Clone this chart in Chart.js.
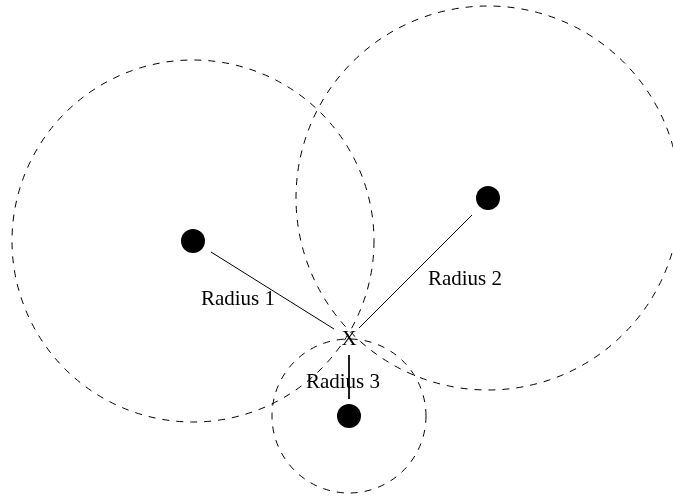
<!DOCTYPE html>
<html>
<head>
<meta charset="utf-8">
<script src="https://cdn.jsdelivr.net/npm/chart.js@4/dist/chart.umd.min.js"></script>
<style>
  html, body { margin: 0; padding: 0; background: #ffffff; }
  #wrap { width: 673px; height: 498px; }
</style>
</head>
<body>
<div id="wrap"><canvas id="c" width="673" height="498"></canvas></div>
<script>
// Station centres (diagram units, y grows downward)
const stationX = [193, 488, 349];
const stationY = [241, 198, 416];
// Circle radii (diagram units)
const circleRadius = [181, 192, 77];
// Estimated position "X"
const targetX = [349];
const targetY = [339];
// Radius line segments: start/end
const segStartX = [211, 472, 349];
const segStartY = [252, 215, 355];
const segEndX = [334, 359, 349];
const segEndY = [329, 328, 399];
// Labels
const radiusLabels = ['Radius 1', 'Radius 2', 'Radius 3'];
const labelX = [238, 465, 343];
const labelY = [299, 279, 382];
const targetLabel = 'X';

const segDatasets = segStartX.map((sx, i) => ({
  type: 'line',
  data: [{x: sx, y: segStartY[i]}, {x: segEndX[i], y: segEndY[i]}],
  borderColor: '#000',
  borderWidth: 1,
  pointRadius: 0,
  fill: false,
  clip: false
}));

const overlay = {
  id: 'overlay',
  beforeDatasetsDraw(chart) {
    const {ctx, scales: {x, y}} = chart;
    ctx.save();
    ctx.strokeStyle = '#000';
    ctx.lineWidth = 1;
    ctx.setLineDash([7, 7]);
    stationX.forEach((cx, i) => {
      const px = x.getPixelForValue(cx);
      const py = y.getPixelForValue(stationY[i]);
      const pr = Math.abs(x.getPixelForValue(cx + circleRadius[i]) - px);
      ctx.beginPath();
      ctx.arc(px, py, pr, 0, Math.PI * 2);
      ctx.stroke();
    });
    ctx.restore();
  },
  afterDatasetsDraw(chart) {
    const {ctx, scales: {x, y}} = chart;
    ctx.save();
    ctx.fillStyle = '#000';
    ctx.font = '21px "Liberation Serif", "Times New Roman", serif';
    ctx.textAlign = 'center';
    ctx.textBaseline = 'middle';
    radiusLabels.forEach((t, i) => {
      ctx.fillText(t, x.getPixelForValue(labelX[i]), y.getPixelForValue(labelY[i]));
    });
    ctx.fillText(targetLabel, x.getPixelForValue(targetX[0]), y.getPixelForValue(targetY[0]));
    ctx.restore();
  }
};

new Chart(document.getElementById('c'), {
  type: 'scatter',
  data: {
    datasets: [
      {
        data: stationX.map((sx, i) => ({x: sx, y: stationY[i]})),
        backgroundColor: '#000',
        borderColor: '#000',
        pointRadius: 12,
        pointHoverRadius: 12,
        borderWidth: 0,
        clip: false
      },
      ...segDatasets
    ]
  },
  options: {
    responsive: false,
    animation: false,
    events: [],
    layout: { padding: 0, autoPadding: false },
    plugins: { legend: { display: false }, tooltip: { enabled: false } },
    scales: {
      x: { type: 'linear', min: 0, max: 673, display: false },
      y: { type: 'linear', min: 0, max: 498, reverse: true, display: false }
    }
  },
  plugins: [overlay]
});
</script>
</body>
</html>
